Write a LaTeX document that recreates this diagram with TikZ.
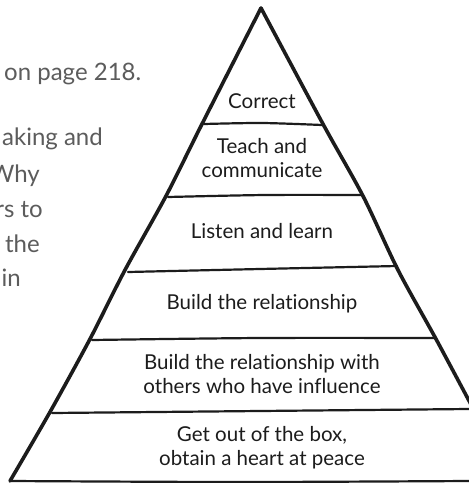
\documentclass[tikz,border=0pt]{standalone}
\usepackage{fontspec}
\setmainfont{Lato}[Ligatures={NoCommon}]
\definecolor{ink}{HTML}{1C1C1C}
\definecolor{pagegray}{HTML}{5C5C5C}
\begin{document}
\begin{tikzpicture}[x=1pt,y=-1pt,
    side/.style={line width=3.6pt,line cap=round,line join=round,ink},
    tier/.style={line width=2.2pt,line cap=round,ink},
    tiertext/.style={font=\fontsize{20.5}{24}\selectfont,align=center,ink,anchor=base},
    pagetext/.style={font=\fontsize{24}{35}\selectfont,pagegray,anchor=base east}]
  \useasboundingbox (0,0) rectangle (469,483);
  \clip (0,0) rectangle (469,483);
  \fill[white] (0,0) rectangle (469,483);
  \draw
    (4,80) node[pagetext,anchor=base west,inner sep=0pt] (p1){on page 218.}
    (103,145) node[pagetext,inner sep=0pt] (p2){aking and}
    (40,182) node[pagetext,inner sep=0pt] (p3){Why}
    (43,217) node[pagetext,inner sep=0pt] (p4){rs to}
    (40,252) node[pagetext,inner sep=0pt] (p5){the}
    (21,286) node[pagetext,inner sep=0pt] (p6){in};
  \begin{scope}
    \draw[side] plot[smooth] coordinates {(10,481) (50,412) (90,339) (125,270) (166,196) (202,124) (261,8)};
    \draw[side] plot[smooth] coordinates {(261,8) (323,124) (363,196) (398,270) (436,339) (475,412)};
    \draw[tier] plot[smooth] coordinates {(204,124) (262,123) (322,125)};
    \draw[tier] plot[smooth] coordinates {(168,197) (265,195) (362,195)};
    \draw[tier] plot[smooth] coordinates {(128,272) (260,269) (397,266)};
    \draw[tier] plot[smooth] coordinates {(92,340) (260,338) (435,338)};
    \draw[tier] plot[smooth] coordinates {(52,413) (260,411) (469,409)};
    \draw[tier] plot[smooth] coordinates {(10,481) (240,482) (469,481)};
  \end{scope}
  \draw
    (262,108) node[tiertext] (correct){Correct}
    (262,177) node[tiertext] (teach){Teach and\\communicate}
    (262,238) node[tiertext] (listen){Listen and learn}
    (262,309) node[tiertext] (build){Build the relationship}
    (262,393) node[tiertext] (others){Build the relationship with\\others who have influence}
    (262,465) node[tiertext] (box){Get out of the box,\\obtain a heart at peace};
\end{tikzpicture}
\end{document}
